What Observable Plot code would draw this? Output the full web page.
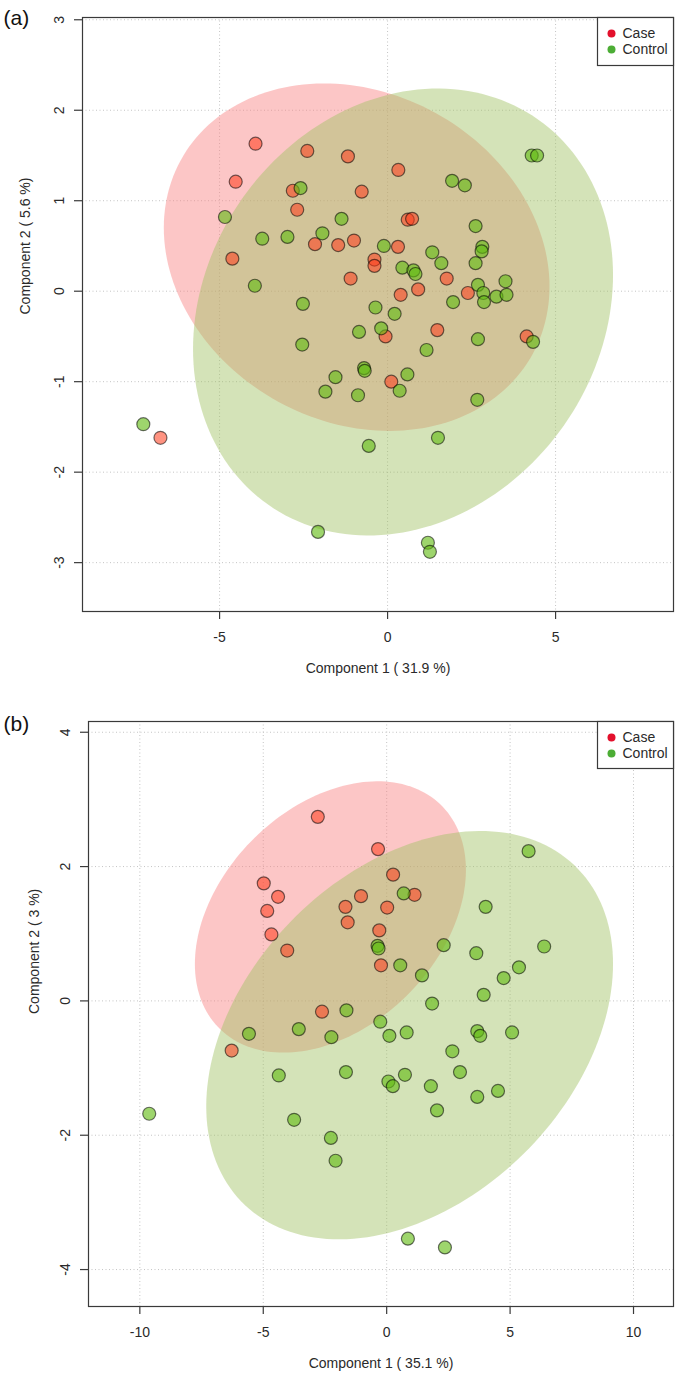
<!DOCTYPE html>
<html>
<head>
<meta charset="utf-8">
<script src="https://cdn.jsdelivr.net/npm/d3@7"></script>
<script src="https://cdn.jsdelivr.net/npm/@observablehq/plot@0.6"></script>
<style>
  html, body { margin: 0; padding: 0; background: #fff; }
  #chart svg { display: block; }
</style>
</head>
<body>
<div id="chart"></div>
<script>
// ---------- Panel (a) data ----------
const caseA = [[-3.93,1.63],[-4.52,1.21],[-4.62,0.36],[-2.39,1.55],[-1.18,1.49],[-2.82,1.11],[-0.77,1.10],[-2.69,0.90],[-2.16,0.52],[-1.47,0.51],[-1.00,0.56],[-0.39,0.35],[-0.39,0.28],[-1.10,0.14],[0.32,1.34],[0.60,0.79],[0.73,0.80],[0.31,0.49],[1.76,0.14],[0.39,-0.04],[0.91,0.02],[2.39,-0.02],[-0.06,-0.50],[1.48,-0.43],[4.14,-0.50],[0.11,-1.00],[-6.76,-1.62]];
const controlA = [[-4.84,0.82],[-3.95,0.06],[-2.59,1.14],[-1.37,0.80],[-3.73,0.58],[-2.98,0.60],[-1.94,0.64],[-2.52,-0.14],[-0.36,-0.18],[-0.85,-0.45],[-2.54,-0.59],[-0.70,-0.85],[-0.68,-0.88],[-1.55,-0.95],[-1.85,-1.11],[-0.88,-1.15],[1.92,1.22],[2.30,1.17],[4.29,1.50],[4.45,1.50],[2.62,0.72],[-0.11,0.50],[2.82,0.49],[2.80,0.44],[1.33,0.43],[1.60,0.31],[2.62,0.31],[0.44,0.26],[0.77,0.23],[0.83,0.19],[2.69,0.07],[2.85,-0.02],[2.87,-0.12],[3.24,-0.06],[3.51,0.11],[3.54,-0.04],[1.95,-0.12],[0.21,-0.25],[-0.19,-0.41],[2.69,-0.53],[4.33,-0.56],[1.16,-0.65],[0.59,-0.92],[0.36,-1.10],[2.67,-1.20],[1.50,-1.62],[-0.56,-1.71],[1.20,-2.78],[1.26,-2.88],[-7.27,-1.47],[-2.07,-2.66]];
// ellipse: [centerX, centerY, halfWidthX, halfHeightY, tilt]
const ellipseCaseA = [-0.92, 0.376, 5.74, 1.92, -0.17];
const ellipseControlA = [0.46, -0.23, 6.25, 2.47, 0.166];
const xTicksA = [-5, 0, 5];
const yTicksA = [-3, -2, -1, 0, 1, 2, 3];
const xDomainA = [-9.08, 8.51];
const yDomainA = [-3.54, 3.025];
const xLabelA = "Component 1 ( 31.9 %)";
const yLabelA = "Component 2 ( 5.6 %)";

// ---------- Panel (b) data ----------
const caseB = [[-2.79,2.74],[-4.98,1.75],[-4.40,1.55],[-4.84,1.34],[-4.67,0.99],[-4.03,0.75],[-2.62,-0.16],[-0.35,2.26],[0.26,1.88],[-1.04,1.56],[1.13,1.58],[-1.67,1.40],[0.02,1.39],[-1.58,1.17],[-0.30,1.05],[-0.23,0.53],[-6.28,-0.74]];
const controlB = [[-0.37,0.82],[-0.33,0.78],[0.69,1.60],[0.55,0.53],[1.43,0.38],[2.31,0.83],[3.63,0.71],[4.01,1.40],[5.75,2.23],[6.38,0.81],[5.36,0.50],[4.74,0.34],[3.93,0.09],[1.84,-0.04],[-1.63,-0.14],[-0.26,-0.31],[-3.56,-0.42],[-5.58,-0.49],[-2.24,-0.54],[0.11,-0.52],[0.81,-0.47],[3.67,-0.45],[3.79,-0.52],[5.08,-0.47],[2.66,-0.75],[-4.37,-1.11],[-1.65,-1.06],[0.07,-1.20],[0.25,-1.27],[0.74,-1.10],[1.79,-1.27],[2.97,-1.06],[4.51,-1.34],[3.67,-1.43],[2.04,-1.63],[-9.62,-1.68],[-3.75,-1.77],[-2.26,-2.04],[-2.07,-2.38],[0.86,-3.54],[2.36,-3.67]];
const ellipseCaseB = [-2.28, 1.25, 5.49, 2.02, 0.354];
const ellipseControlB = [0.93, -0.51, 8.24, 3.04, 0.356];
const xTicksB = [-10, -5, 0, 5, 10];
const yTicksB = [-4, -2, 0, 2, 4];
const xDomainB = [-12.08, 11.62];
const yDomainB = [-4.55, 4.16];
const xLabelB = "Component 1 ( 35.1 %)";
const yLabelB = "Component 2 ( 3 %)";

const groups = ["Case", "Control"];

// ---------- drawing ----------
const FONT = "'Liberation Sans', Arial, Helvetica, sans-serif";

function ellipsePath([cx, cy, a, b, phi]) {
  return d3.range(0, 181).map(i => {
    const t = 2 * Math.PI * i / 180;
    return [cx + a * Math.cos(t), cy + b * Math.sin(t + phi)];
  });
}

function panel(cfg) {
  const gridStyle = {stroke: "#c4c4c4", strokeOpacity: 1, strokeWidth: 1, strokeDasharray: "1,2.5"};
  const dotStyle = {x: d => d[0], y: d => d[1], r: 6.5, stroke: "#000", strokeWidth: 1.2, strokeOpacity: 0.55};
  return Plot.plot({
    width: 680,
    height: cfg.height,
    marginLeft: cfg.ml, marginRight: cfg.mr, marginTop: cfg.mt, marginBottom: cfg.mb,
    x: {domain: cfg.xDomain},
    y: {domain: cfg.yDomain},
    style: {fontFamily: FONT, fontSize: "14px", color: "#2a2a2a", background: "#fff", overflow: "visible"},
    marks: [
      Plot.gridX(cfg.xTicks, gridStyle),
      Plot.gridY(cfg.yTicks, gridStyle),
      Plot.line(ellipsePath(cfg.ellCase), {x: d => d[0], y: d => d[1], fill: "#f98080", fillOpacity: 0.45, stroke: "none"}),
      Plot.line(ellipsePath(cfg.ellControl), {x: d => d[0], y: d => d[1], fill: "#9fc262", fillOpacity: 0.45, stroke: "none"}),
      Plot.dot(cfg.caseData, {...dotStyle, fill: "#ff3a1a", fillOpacity: 0.55}),
      Plot.dot(cfg.controlData, {...dotStyle, fill: "#62bb14", fillOpacity: 0.62}),
      Plot.frame({stroke: "#3a3a3a", strokeWidth: 1.2}),
      Plot.axisX(cfg.xTicks, {tickSize: 8, tickFormat: () => "", label: null, stroke: "#3a3a3a", strokeWidth: 1.2}),
      Plot.axisY(cfg.yTicks, {tickSize: 8, tickFormat: () => "", label: null, stroke: "#3a3a3a", strokeWidth: 1.2}),
      Plot.text(cfg.xTicks, {x: d => d, frameAnchor: "bottom", dy: 26, text: d => String(d), lineAnchor: "middle", fontSize: 14}),
      Plot.text(cfg.yTicks, {y: d => d, frameAnchor: "left", dx: -23, rotate: -90, text: d => String(d), textAnchor: "middle", lineAnchor: "middle", fontSize: 14}),
      Plot.text([cfg.xLabel], {frameAnchor: "bottom", dy: 57, text: d => d, lineAnchor: "middle", fontSize: 14}),
      Plot.text([cfg.yLabel], {frameAnchor: "left", dx: cfg.yLabelDx, rotate: -90, text: d => d, lineAnchor: "middle", fontSize: 14}),
      Plot.text([cfg.tag], {frameAnchor: "top-left", dx: cfg.tagDx, dy: cfg.tagDy, text: d => d, textAnchor: "start", lineAnchor: "middle", fontSize: 21, fill: "#111"}),
      // legend box
      Plot.frame({insetLeft: cfg.legInsetLeft, insetBottom: cfg.legInsetBottom, fill: "#fff", stroke: "#3a3a3a", strokeWidth: 1.2}),
      Plot.dot([groups[0]], {frameAnchor: "top-right", dx: -62, dy: 16, r: 4, fill: "#e3102c", stroke: "none"}),
      Plot.dot([groups[1]], {frameAnchor: "top-right", dx: -62, dy: 32, r: 4, fill: "#4cad35", stroke: "none"}),
      Plot.text([groups[0]], {frameAnchor: "top-right", dx: -51, dy: 16, text: d => d, textAnchor: "start", lineAnchor: "middle", fontSize: 14}),
      Plot.text([groups[1]], {frameAnchor: "top-right", dx: -51, dy: 32, text: d => d, textAnchor: "start", lineAnchor: "middle", fontSize: 14})
    ]
  });
}

const chart = document.getElementById("chart");
chart.append(panel({
  height: 680, ml: 82, mr: 7, mt: 17, mb: 69,
  xDomain: xDomainA, yDomain: yDomainA, xTicks: xTicksA, yTicks: yTicksA,
  caseData: caseA, controlData: controlA, ellCase: ellipseCaseA, ellControl: ellipseControlA,
  xLabel: xLabelA, yLabel: yLabelA, yLabelDx: -57,
  tag: "(a)", tagDx: -79, tagDy: 1,
  legInsetLeft: 515, legInsetBottom: 546
}));
chart.append(panel({
  height: 698, ml: 88, mr: 7, mt: 41, mb: 72,
  xDomain: xDomainB, yDomain: yDomainB, xTicks: xTicksB, yTicks: yTicksB,
  caseData: caseB, controlData: controlB, ellCase: ellipseCaseB, ellControl: ellipseControlB,
  xLabel: xLabelB, yLabel: yLabelB, yLabelDx: -54,
  tag: "(b)", tagDx: -85, tagDy: 3,
  legInsetLeft: 509, legInsetBottom: 538
}));
</script>
</body>
</html>
